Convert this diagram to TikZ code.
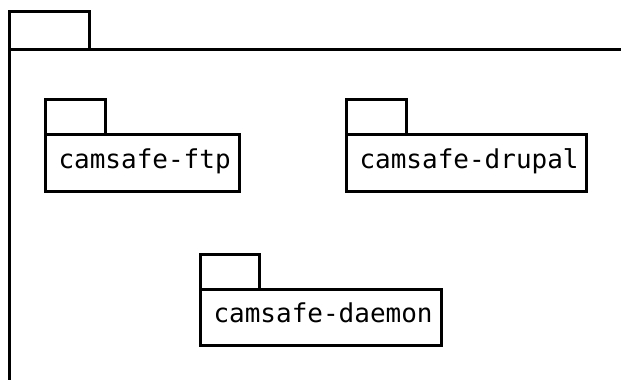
\documentclass[tikz,border=0pt]{standalone}
\usepackage{fontspec}
\newfontfamily\pkgmono{DejaVu Sans Mono}
\begin{document}
\begin{tikzpicture}[x=1pt,y=-1pt,line width=3pt,line join=miter,
  pkgbody/.style={draw,rectangle,anchor=north west,inner sep=0pt,outer sep=0pt},
  pkgtab/.style={draw,rectangle,anchor=south west,inner sep=0pt,outer sep=0pt},
  pkgtext/.style={anchor=base west,inner sep=0pt,font=\pkgmono\fontsize{26}{30}\selectfont}]
\useasboundingbox (0,0) rectangle (621,380);
\clip (0,0) rectangle (621,380);
% outer package
\node[pkgbody,minimum width=700pt,minimum height=400pt] (outer) at (9,49) {};
\node[pkgtab,minimum width=80pt,minimum height=38pt] (outertab) at (outer.north west) {};
% camsafe-ftp
\node[pkgbody,minimum width=194pt,minimum height=57pt] (ftp) at (45,134) {};
\node[pkgtab,minimum width=60pt,minimum height=35pt] (ftptab) at (ftp.north west) {};
\node[pkgtext] (ftptext) at (57,168.5) {camsafe-ftp};
% camsafe-drupal
\node[pkgbody,minimum width=240.5pt,minimum height=57pt] (drupal) at (346,134) {};
\node[pkgtab,minimum width=60pt,minimum height=35pt] (drupaltab) at (drupal.north west) {};
\node[pkgtext] (drupaltext) at (358,168.5) {camsafe-drupal};
% camsafe-daemon
\node[pkgbody,minimum width=241pt,minimum height=56pt] (daemon) at (200,289) {};
\node[pkgtab,minimum width=59pt,minimum height=35pt] (daemontab) at (daemon.north west) {};
\node[pkgtext] (daemontext) at (212,322.5) {camsafe-daemon};
\end{tikzpicture}
\end{document}
